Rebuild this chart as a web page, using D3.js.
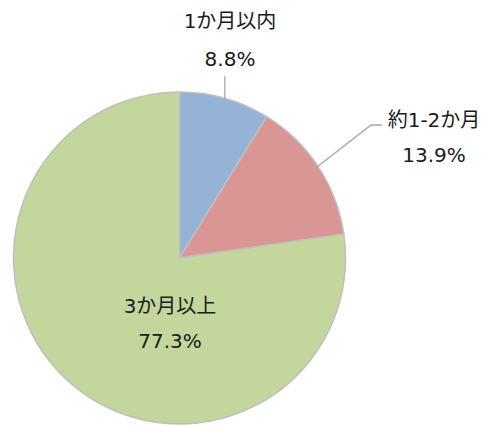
<!DOCTYPE html>
<html lang="ja">
<head>
<meta charset="UTF-8">
<title>Pie</title>
<style>
  body { margin: 0; padding: 0; background: #fff; }
  svg { display: block; }
  .lbl { font-family: "DejaVu Sans", "Noto Sans CJK JP", sans-serif; font-size: 20px; fill: #1a1a1a; text-anchor: middle; }
</style>
</head>
<body>
<svg width="483" height="426"></svg>
<script src="https://d3js.org/d3.v7.min.js"></script>
<script>
  // data
  const categories = ["1か月以内", "約1-2か月", "3か月以上"];
  const values = [8.8, 13.9, 77.3];
  const colors = ["#95B3D7", "#D99694", "#C3D69B"];

  const svg = d3.select("svg");
  const cx = 179.5, cy = 258, r = 166;

  const pie = d3.pie().sort(null).value(d => d)(values);
  const arc = d3.arc().innerRadius(0).outerRadius(r);

  const g = svg.append("g").attr("transform", `translate(${cx},${cy})`);

  g.selectAll("path")
    .data(pie)
    .enter()
    .append("path")
    .attr("d", arc)
    .attr("fill", (d, i) => colors[i])
    .attr("stroke", "#BFBFBF")
    .attr("stroke-width", 1.5)
    .attr("stroke-linejoin", "round");

  // label positions, placed by hand like the original
  const labelPos = [
    { x: 230, y1: 28, y2: 66 },
    { x: 434, y1: 127, y2: 162 },
    { x: 170, y1: 313, y2: 348 }
  ];

  // leader lines
  function edgePoint(d, k) {
    const a = (d.startAngle + d.endAngle) / 2;
    return [cx + Math.sin(a) * r * k, cy - Math.cos(a) * r * k];
  }
  // blue: straight up from slice edge
  const pb = edgePoint(pie[0], 1.0);
  svg.append("path")
    .attr("d", `M${pb[0]},${pb[1] + 1}L${pb[0]},${pb[1] - 22}`)
    .attr("stroke", "#A6A6A6").attr("stroke-width", 1.3).attr("fill", "none");
  // red: diagonal then horizontal
  const pr = edgePoint(pie[1], 0.985);
  svg.append("path")
    .attr("d", `M${pr[0] - 2},${pr[1] + 1}L371,125L382,125`)
    .attr("stroke", "#A6A6A6").attr("stroke-width", 1.3).attr("fill", "none");

  const labels = svg.selectAll(".lab")
    .data(pie)
    .enter()
    .append("g");

  labels.append("text")
    .attr("class", "lbl")
    .attr("x", (d, i) => labelPos[i].x)
    .attr("y", (d, i) => labelPos[i].y1)
    .text((d, i) => categories[i]);

  labels.append("text")
    .attr("class", "lbl")
    .attr("x", (d, i) => labelPos[i].x)
    .attr("y", (d, i) => labelPos[i].y2)
    .text(d => d.data.toFixed(1) + "%");
</script>
</body>
</html>
